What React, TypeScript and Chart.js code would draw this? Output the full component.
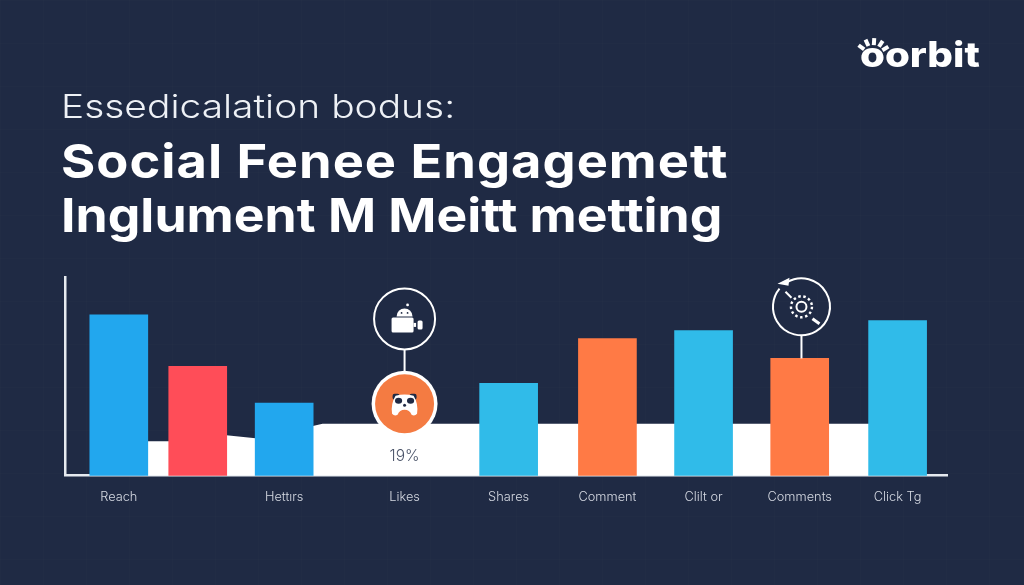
import React, { useEffect, useRef } from "react";
import { Chart, registerables } from "chart.js";

Chart.register(...registerables);

const categories = ["Reach", "", "Hettırs", "Likes", "Shares", "Comment", "Clilt or", "Comments", "Click Tg"];
const slots = [6.1, 15.05, 24.85, 38.5, 50.3, 61.5, 72.4, 83.3, 94.4];
const barValues = [81, 55, 36.5, null, 46.5, 69, 73, 59, 78];
const barColors = ["#22a7ee", "#ff4d58", "#22a7ee", "#000000", "#30bbe9", "#ff7a45", "#30bbe9", "#ff7a45", "#30bbe9"];
const areaX = [9, 11.9, 18.3, 21.6, 28.1, 29.2, 94.3];
const areaY = [17.3, 17.3, 20.3, 18.8, 25, 26.1, 26.1];
const percentLabel = "19%";
const percentSlot = 38.5;
const percentValue = 9.8;
const calloutA = { slot: 38.5, low: 36.2, high: 78.9, color: "#f47b42" };
const calloutB = { slot: 83.5, high: 85 };

const FONT = "Inter, sans-serif";
const BG = "#1f2a44";

function drawAndroidCamera(c: CanvasRenderingContext2D, x: number, y: number) {
  c.fillStyle = "#ffffff";
  c.beginPath();
  c.arc(x, y - 2.5, 8, Math.PI, 0);
  c.fill();
  c.beginPath();
  c.roundRect(x - 13, y - 1.5, 22, 15, 1.5);
  c.fill();
  c.beginPath();
  c.roundRect(x + 13, y + 1.5, 5, 9, 1.5);
  c.fill();
  c.fillRect(x + 9, y + 4, 2.5, 4);
  c.beginPath();
  c.arc(x + 3, y - 14, 1.4, 0, 6.3);
  c.fill();
  c.fillStyle = BG;
  c.beginPath();
  c.arc(x - 3, y - 6, 0.9, 0, 6.3);
  c.arc(x + 3, y - 6, 0.9, 0, 6.3);
  c.fill();
}

function drawPanda(c: CanvasRenderingContext2D, x: number, y: number) {
  c.fillStyle = BG;
  c.beginPath();
  c.roundRect(x - 12, y - 10, 7, 6, 2);
  c.roundRect(x + 5, y - 10, 7, 6, 2);
  c.fill();
  c.fillStyle = "#ffffff";
  c.beginPath();
  c.moveTo(x - 9, y - 8);
  c.quadraticCurveTo(x, y - 10.5, x + 9, y - 8);
  c.quadraticCurveTo(x + 14, y, x + 12.5, y + 10);
  c.quadraticCurveTo(x + 10, y + 13, x + 7, y + 11);
  c.quadraticCurveTo(x + 5, y + 6, x, y + 6);
  c.quadraticCurveTo(x - 5, y + 6, x - 7, y + 11);
  c.quadraticCurveTo(x - 10, y + 13, x - 12.5, y + 10);
  c.quadraticCurveTo(x - 14, y, x - 9, y - 8);
  c.fill();
  c.fillStyle = BG;
  c.beginPath();
  c.ellipse(x - 6, y - 3, 3.6, 3, 0, 0, 6.3);
  c.fill();
  c.beginPath();
  c.ellipse(x + 6, y - 3, 3.6, 3, 0, 0, 6.3);
  c.fill();
  c.beginPath();
  c.arc(x, y + 1.5, 1.5, 0, 6.3);
  c.fill();
}

function drawGear(c: CanvasRenderingContext2D, x: number, y: number) {
  c.strokeStyle = "#ffffff";
  c.lineWidth = 2;
  c.beginPath();
  c.arc(x, y, 5, 0, 6.3);
  c.stroke();
  c.setLineDash([2.5, 2.6]);
  c.lineWidth = 2.4;
  c.beginPath();
  c.arc(x, y, 10.5, 0, 6.3);
  c.stroke();
  c.setLineDash([]);
  c.lineWidth = 2;
  c.beginPath();
  c.moveTo(x - 16, y - 15);
  c.lineTo(x - 10, y - 9);
  c.stroke();
  c.lineWidth = 3;
  c.beginPath();
  c.moveTo(x + 11, y + 12);
  c.lineTo(x + 18, y + 17);
  c.stroke();
}

function drawLogoMark(c: CanvasRenderingContext2D) {
  const cx = 873;
  const cy = 56;
  c.strokeStyle = "#ffffff";
  c.lineWidth = 4;
  c.lineCap = "butt";
  [-2.5, -2.0, -1.5, -1.0, -0.55].forEach((a) => {
    c.beginPath();
    c.moveTo(cx + Math.cos(a) * 11, cy + Math.sin(a) * 11);
    c.lineTo(cx + Math.cos(a) * 18, cy + Math.sin(a) * 18);
    c.stroke();
  });
}

const calloutPlugin = {
  id: "callouts",
  afterDatasetsDraw(chart: any) {
    const { ctx: c, scales } = chart;
    const ax = scales.x.getPixelForValue(calloutA.slot);
    const low = scales.y.getPixelForValue(calloutA.low);
    const high = scales.y.getPixelForValue(calloutA.high);
    const bx = scales.x.getPixelForValue(calloutB.slot);
    const bh = scales.y.getPixelForValue(calloutB.high);
    const bBar = scales.y.getPixelForValue(barValues[7] as number);
    c.save();
    c.strokeStyle = "#ffffff";
    c.lineWidth = 2;
    c.beginPath();
    c.moveTo(ax, high);
    c.lineTo(ax, low);
    c.stroke();
    c.beginPath();
    c.arc(ax, high, 30.5, 0, 6.3);
    c.fillStyle = BG;
    c.fill();
    c.stroke();
    drawAndroidCamera(c, ax, high);
    c.beginPath();
    c.arc(ax, low, 33, 0, 6.3);
    c.fillStyle = "#ffffff";
    c.fill();
    c.beginPath();
    c.arc(ax, low, 29.5, 0, 6.3);
    c.fillStyle = calloutA.color;
    c.fill();
    drawPanda(c, ax, low);

    c.strokeStyle = "#ffffff";
    c.lineWidth = 2;
    c.beginPath();
    c.moveTo(bx, bh + 28.5);
    c.lineTo(bx, bBar);
    c.stroke();
    c.beginPath();
    c.arc(bx, bh, 28.5, -2.1, -2.45 + Math.PI * 2);
    c.stroke();
    c.fillStyle = "#ffffff";
    c.beginPath();
    c.moveTo(bx - 24, bh - 23);
    c.lineTo(bx - 12, bh - 29);
    c.lineTo(bx - 13, bh - 21);
    c.closePath();
    c.fill();
    drawGear(c, bx, bh);

    c.fillStyle = "#4a5368";
    c.font = `300 15.5px ${FONT}`;
    c.textAlign = "center";
    c.textBaseline = "middle";
    c.fillText(percentLabel, scales.x.getPixelForValue(percentSlot), scales.y.getPixelForValue(percentValue));
    drawLogoMark(c);
    c.restore();
  },
};

export default function App() {
  const ref = useRef<HTMLCanvasElement>(null);
  useEffect(() => {
    document.body.style.margin = "0";
    document.body.style.background = BG;
    const chart = new Chart(ref.current as HTMLCanvasElement, {
      type: "bar",
      data: {
        datasets: [
          {
            type: "bar",
            data: slots.map((x, i) => ({ x, y: barValues[i] })),
            backgroundColor: barColors,
            barThickness: 58,
            order: 1,
          },
          {
            type: "line",
            data: areaX.map((x, i) => ({ x, y: areaY[i] })),
            borderColor: "#ffffff",
            borderWidth: 0,
            backgroundColor: "#ffffff",
            pointRadius: 0,
            fill: "origin",
            order: 2,
          },
        ],
      } as any,
      options: {
        animation: false,
        responsive: false,
        layout: { padding: { left: 65, right: 77, top: 277, bottom: 66 } },
        plugins: { legend: { display: false }, tooltip: { enabled: false } },
        scales: {
          x: {
            type: "linear",
            offset: false,
            min: 0,
            max: 100,
            afterBuildTicks(axis: any) {
              axis.ticks = slots.map((value) => ({ value }));
            },
            grid: { display: false, drawTicks: false },
            border: { color: "#e6eaf0", width: 2.5 },
            ticks: {
              autoSkip: false,
              maxRotation: 0,
              padding: 14,
              color: "#d5d9e2",
              font: { family: FONT, size: 12.8, weight: 300 },
              callback: (v: any) => categories[slots.indexOf(v)] ?? "",
            },
          },
          y: {
            min: 0,
            max: 100,
            grid: { display: false, drawTicks: false },
            border: { color: "#e6eaf0", width: 2.5 },
            ticks: { display: false },
          },
        },
      },
      plugins: [calloutPlugin],
    } as any);
    return () => chart.destroy();
  }, []);

  const lineStyle = (scale: number, spacing: number): React.CSSProperties => ({
    display: "block",
    transform: `scaleX(${scale})`,
    transformOrigin: "left center",
    letterSpacing: spacing,
    width: "max-content",
  });

  return (
    <div
      style={{
        position: "relative",
        width: 1024,
        height: 585,
        overflow: "hidden",
        backgroundColor: BG,
        backgroundImage:
          "linear-gradient(rgba(255,255,255,0.007) 1px, transparent 1px), linear-gradient(90deg, rgba(255,255,255,0.007) 1px, transparent 1px)",
        backgroundSize: "43px 43px",
      }}
    >
      <canvas ref={ref} width={1024} height={585} style={{ position: "absolute", left: 0, top: 0, display: "block" }} />
      <div style={{ position: "absolute", left: 61, top: 86, font: `300 33px ${FONT}`, color: "#eef1f6", whiteSpace: "nowrap" }}>
        <span style={lineStyle(1.18, 0)}>Essedicalation bodus:</span>
      </div>
      <div style={{ position: "absolute", left: 61, top: 134, font: `700 47px/54px ${FONT}`, color: "#ffffff", whiteSpace: "nowrap" }}>
        <span style={lineStyle(1.115, 0.9)}>Social Fenee Engagemett</span>
        <span style={lineStyle(1.1, 0)}>Inglument M Meitt metting</span>
      </div>
      <div style={{ position: "absolute", left: 860, top: 33, font: `800 35px ${FONT}`, color: "#ffffff", whiteSpace: "nowrap" }}>
        <span style={lineStyle(1.15, 0)}>oorbit</span>
      </div>
    </div>
  );
}
